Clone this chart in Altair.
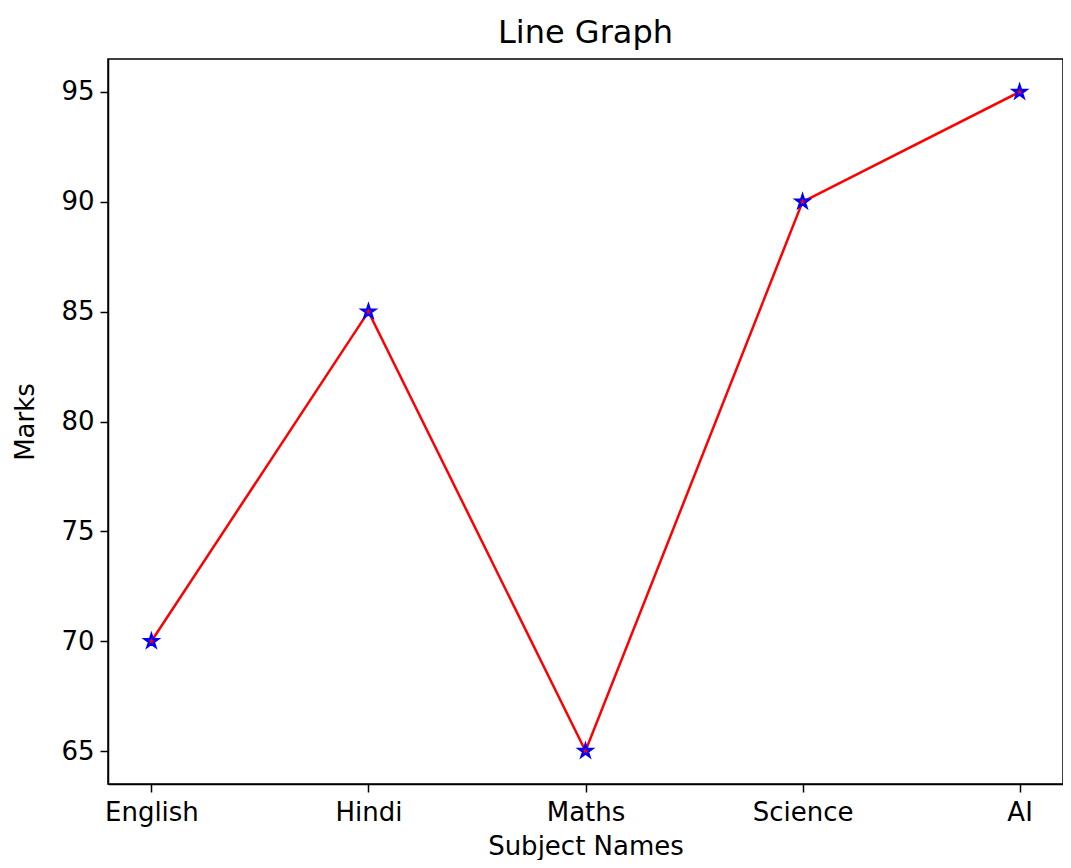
import altair as alt
import pandas as pd

subjects = ["English", "Hindi", "Maths", "Science", "AI"]
marks = [70, 85, 65, 90, 95]

df = pd.DataFrame({"subject": subjects, "marks": marks})

FONT = "DejaVu Sans"
STAR = "M0,-1L0.2245,-0.309L0.951,-0.309L0.363,0.118L0.588,0.809L0,0.382L-0.588,0.809L-0.363,0.118L-0.951,-0.309L-0.2245,-0.309Z"

x = alt.X("subject:N", sort=subjects, title="Subject Names",
          scale=alt.Scale(type="point", padding=0.2),
          axis=alt.Axis(labelAngle=0, tickSize=8, labelPadding=7, titlePadding=8))
y = alt.Y("marks:Q", title="Marks",
          scale=alt.Scale(domain=[63.5, 96.5], nice=False, zero=False),
          axis=alt.Axis(values=[65, 70, 75, 80, 85, 90, 95], grid=False,
                        tickSize=8, labelPadding=6, titlePadding=22))

line = alt.Chart(df).mark_line(color="red", strokeWidth=2.5).encode(x=x, y=y)
pts = alt.Chart(df).mark_point(filled=True, fill="red", stroke="blue",
                               strokeWidth=2.2, size=190, opacity=1).encode(
    x=x, y=y, shape=alt.value(STAR))

chart = (line + pts).properties(
    width=955, height=725,
    title=alt.TitleParams("Line Graph", fontSize=32, font=FONT, fontWeight="normal",
                          color="black", offset=9),
    autosize=alt.AutoSizeParams(type="none"),
    padding={"left": 100, "top": 51, "right": 0, "bottom": 76},
    background="white",
).configure_view(stroke="black", strokeWidth=1.5).configure_axis(
    labelFont=FONT, titleFont=FONT, labelFontSize=26, titleFontSize=26,
    labelColor="black", titleColor="black", titleFontWeight="normal",
    domainColor="black", tickColor="black",
    domainWidth=1.5, tickWidth=1.5
)

chart.save("out.html", embed_options={"renderer": "svg", "actions": False})
